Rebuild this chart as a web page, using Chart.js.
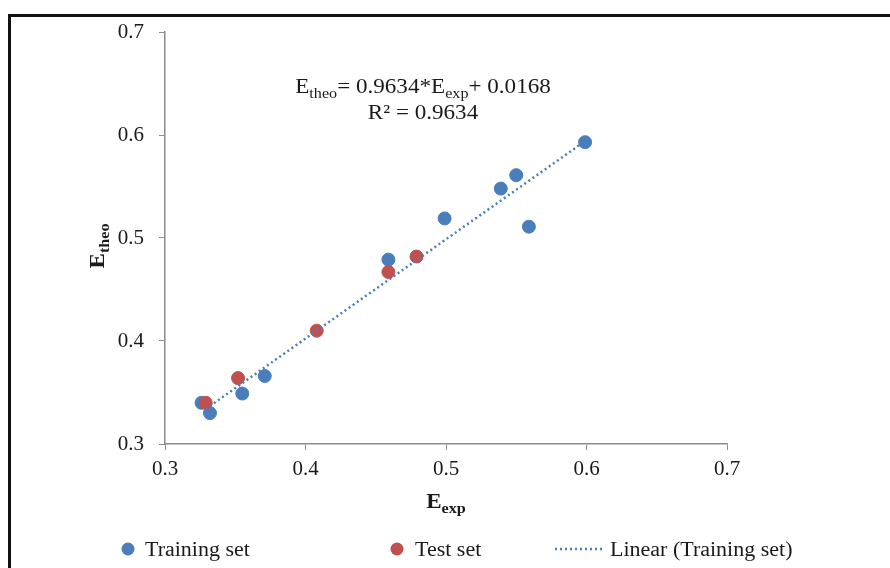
<!DOCTYPE html>
<html lang="en">

<head>
        <meta charset="UTF-8">
        <title>Etheo vs Eexp</title>
        <style>
                body {
                        margin: 0;
                        background: #fff;
                }

                #chart-container {
                        width: 890px;
                        height: 568px;
                }
        </style>
</head>

<body>
        <div id="chart-container">
                <canvas id="myChart" width="890" height="568"></canvas>
        </div>

        <script src="https://cdn.jsdelivr.net/npm/chart.js@4.4.1/dist/chart.umd.min.js"></script>
        <script>
                // values
                const trainX = [0.326, 0.332, 0.355, 0.371, 0.459, 0.499, 0.539, 0.550, 0.559, 0.599]
                const trainY = [0.340, 0.330, 0.349, 0.366, 0.479, 0.519, 0.548, 0.561, 0.511, 0.593]
                const testX = [0.329, 0.352, 0.408, 0.459, 0.479]
                const testY = [0.340, 0.364, 0.410, 0.467, 0.482]
                const trendX = [0.329, 0.600]
                const trendY = [0.334, 0.595]
                const axisTicks = [0.3, 0.4, 0.5, 0.6, 0.7]

                const BLUE = '#4a7ebb'
                const RED = '#c0504d'
                const SERIF = '"Liberation Serif", "Times New Roman", serif'
                const SX = 1.1 // the picture's text is a bit wide

                const toPoints = (xs, ys) => xs.map((x, i) => ({ x: x, y: ys[i] }))

                // text with a subscript part, drawn left to right, stretched by SX
                function drawParts(c, parts, x, y, size, bold) {
                        parts.forEach(p => {
                                const s = p.sub ? size * 0.7 : size
                                c.font = (bold ? 'bold ' : '') + s + 'px ' + SERIF
                                c.save()
                                c.translate(x, y + (p.sub ? size * 0.22 : 0))
                                c.scale(SX, 1)
                                c.fillText(p.t, 0, 0)
                                c.restore()
                                x += c.measureText(p.t).width * SX
                        })
                        return x
                }
                function partsWidth(c, parts, size, bold) {
                        let w = 0
                        parts.forEach(p => {
                                const s = p.sub ? size * 0.7 : size
                                c.font = (bold ? 'bold ' : '') + s + 'px ' + SERIF
                                w += c.measureText(p.t).width * SX
                        })
                        return w
                }

                const extras = {
                        id: 'extras',
                        beforeDraw(chart) {
                                const c = chart.ctx
                                c.save()
                                c.strokeStyle = '#111'
                                c.lineWidth = 3
                                c.strokeRect(9.5, 15.5, 950, 650)
                                c.restore()
                        },
                        afterDraw(chart) {
                                const c = chart.ctx
                                const xs = chart.scales.x
                                const ys = chart.scales.y
                                c.save()
                                c.fillStyle = '#1a1a1a'
                                c.textBaseline = 'alphabetic'

                                // equation and R2
                                const eq = [{ t: 'E' }, { t: 'theo', sub: true }, { t: '= 0.9634*E' }, { t: 'exp', sub: true }, { t: '+ 0.0168' }]
                                const eqW = partsWidth(c, eq, 21, false)
                                drawParts(c, eq, 423 - eqW / 2, 93, 21, false)
                                const r2 = [{ t: 'R² = 0.9634' }]
                                drawParts(c, r2, 423 - partsWidth(c, r2, 21, false) / 2, 119, 21, false)

                                // x axis title
                                const xt = [{ t: 'E' }, { t: 'exp', sub: true }]
                                const xtW = partsWidth(c, xt, 21, true)
                                drawParts(c, xt, (xs.left + xs.right) / 2 - xtW / 2, 508, 21, true)

                                // y axis title
                                const yt = [{ t: 'E' }, { t: 'theo', sub: true }]
                                const ytW = partsWidth(c, yt, 21, true)
                                c.save()
                                c.translate(104, (ys.top + ys.bottom) / 2 + 8)
                                c.rotate(-Math.PI / 2)
                                drawParts(c, yt, -ytW / 2, 0, 21, true)
                                c.restore()

                                // legend
                                const ly = 549
                                c.fillStyle = BLUE
                                c.beginPath(); c.arc(128, ly, 6.5, 0, Math.PI * 2); c.fill()
                                c.fillStyle = RED
                                c.beginPath(); c.arc(397, ly, 6.5, 0, Math.PI * 2); c.fill()
                                c.strokeStyle = BLUE
                                c.lineWidth = 2.5
                                c.setLineDash([2, 3])
                                c.beginPath(); c.moveTo(555, ly); c.lineTo(604, ly); c.stroke()
                                c.setLineDash([])
                                c.fillStyle = '#1a1a1a'
                                drawParts(c, [{ t: 'Training set' }], 145, ly + 7, 20, false)
                                drawParts(c, [{ t: 'Test set' }], 415, ly + 7, 20, false)
                                drawParts(c, [{ t: 'Linear (Training set)' }], 610, ly + 7, 20, false)
                                c.restore()
                        }
                }

                const ctx = document.getElementById('myChart')

                new Chart(ctx, {
                        type: 'scatter',
                        data: {
                                datasets: [{
                                        label: 'Linear (Training set)',
                                        type: 'line',
                                        data: toPoints(trendX, trendY),
                                        borderColor: BLUE,
                                        borderWidth: 2.5,
                                        borderDash: [2, 3],
                                        pointRadius: 0,
                                        fill: false,
                                        order: 0
                                }, {
                                        label: 'Test set',
                                        data: toPoints(testX, testY),
                                        backgroundColor: RED,
                                        borderColor: RED,
                                        pointRadius: 6.5,
                                        order: 1
                                }, {
                                        label: 'Training set',
                                        data: toPoints(trainX, trainY),
                                        backgroundColor: BLUE,
                                        borderColor: BLUE,
                                        pointRadius: 6.5,
                                        order: 2
                                }]
                        },
                        options: {
                                responsive: false,
                                animation: false,
                                layout: {
                                        padding: { left: 0, top: 32, right: 163, bottom: 84 }
                                },
                                plugins: {
                                        legend: { display: false },
                                        tooltip: { enabled: false }
                                },
                                scales: {
                                        x: {
                                                type: 'linear',
                                                min: 0.3,
                                                max: 0.7,
                                                afterFit: s => { s.height = 40 },
                                                afterBuildTicks: s => { s.ticks = axisTicks.map(v => ({ value: v })) },
                                                grid: { drawOnChartArea: false, tickLength: 6, color: '#8c8c8c' },
                                                border: { color: '#8c8c8c', width: 1.5 },
                                                ticks: {
                                                        padding: 7,
                                                        color: '#1a1a1a',
                                                        font: { family: SERIF, size: 21 },
                                                        callback: v => v.toFixed(1)
                                                }
                                        },
                                        y: {
                                                type: 'linear',
                                                min: 0.3,
                                                max: 0.7,
                                                afterFit: s => { s.width = 165 },
                                                afterBuildTicks: s => { s.ticks = axisTicks.map(v => ({ value: v })) },
                                                grid: { drawOnChartArea: false, tickLength: 6, color: '#8c8c8c' },
                                                border: { color: '#8c8c8c', width: 1.5 },
                                                ticks: {
                                                        padding: 15,
                                                        color: '#1a1a1a',
                                                        font: { family: SERIF, size: 21 },
                                                        callback: v => v.toFixed(1)
                                                }
                                        }
                                }
                        },
                        plugins: [extras]
                })
        </script>
</body>

</html>
